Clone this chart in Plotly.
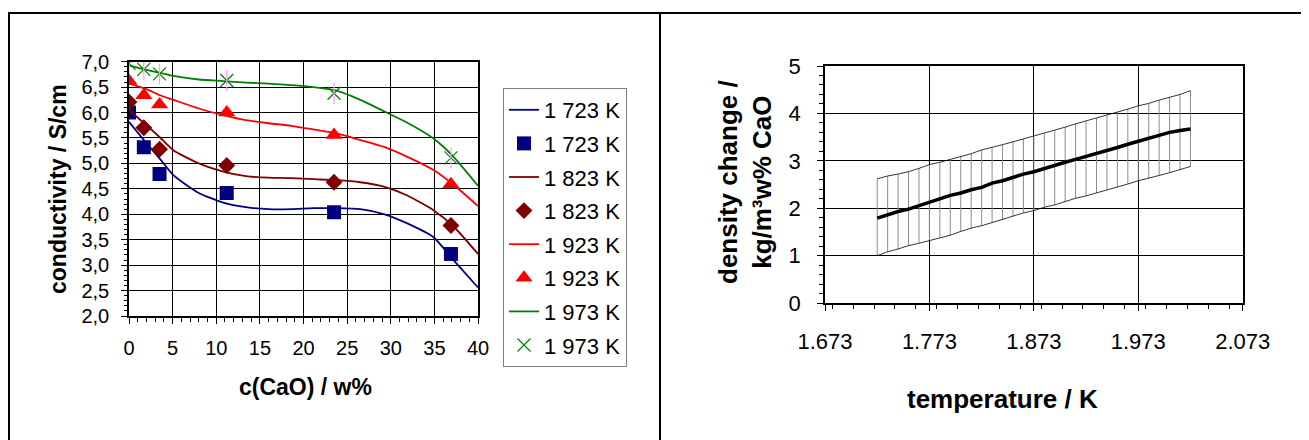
import plotly.graph_objects as go

# ---------------- data: left chart (conductivity) ----------------
curve_x = [0, 2.0, 3.55, 5.08, 8.0, 10.8, 13.4, 16.0, 18.6, 21.1, 23.8, 26.5, 29.3, 31.9, 34.9, 37.2, 40]
curve_1723 = [5.82, 5.40, 5.09, 4.77, 4.42, 4.23, 4.14, 4.10, 4.10, 4.12, 4.12, 4.10, 4.00, 3.82, 3.55, 3.10, 2.56]
curve_1823 = [6.05, 5.75, 5.51, 5.26, 5.00, 4.84, 4.75, 4.72, 4.71, 4.69, 4.67, 4.63, 4.54, 4.37, 4.08, 3.76, 3.22]
curve_1923 = [6.57, 6.46, 6.34, 6.25, 6.08, 5.95, 5.85, 5.79, 5.74, 5.67, 5.59, 5.46, 5.32, 5.13, 4.87, 4.58, 4.16]
curve_1973 = [6.93, 6.84, 6.78, 6.72, 6.65, 6.62, 6.59, 6.57, 6.54, 6.50, 6.43, 6.25, 6.02, 5.80, 5.49, 5.13, 4.56]

meas_x = [0, 1.7, 3.5, 11.2, 23.5, 36.9]
meas_1723 = [6.00, 5.32, 4.79, 4.42, 4.04, 3.22]
meas_1823 = [6.21, 5.70, 5.28, 4.96, 4.63, 3.78]
meas_1923 = [6.62, 6.34, 6.16, 6.00, 5.56, 4.59]
meas_1973 = [6.97, 6.85, 6.76, 6.63, 6.38, 5.11]

series_names = ["1 723 K", "1 823 K", "1 923 K", "1 973 K"]
series_colors = ["#000080", "#800000", "#FF0000", "#008000"]

# ---------------- data: right chart (density change) ----------------
temp_k = [1723, 1733, 1743, 1753, 1763, 1773, 1783, 1793, 1803, 1813, 1823,
          1833, 1843, 1853, 1863, 1873, 1883, 1893, 1903, 1913, 1923,
          1933, 1943, 1953, 1963, 1973, 1983, 1993, 2003, 2013, 2023]
dens_mid = [1.79, 1.86, 1.93, 1.98, 2.05, 2.12, 2.20, 2.27, 2.32, 2.39, 2.44,
            2.53, 2.58, 2.65, 2.72, 2.77, 2.84, 2.91, 2.97, 3.03, 3.09,
            3.16, 3.22, 3.28, 3.35, 3.41, 3.48, 3.53, 3.60, 3.64, 3.67]
dens_up = [2.62, 2.68, 2.72, 2.77, 2.84, 2.92, 2.97, 3.03, 3.09, 3.15, 3.23,
           3.28, 3.34, 3.40, 3.46, 3.53, 3.58, 3.64, 3.71, 3.78, 3.84,
           3.90, 3.97, 4.03, 4.09, 4.16, 4.21, 4.28, 4.34, 4.40, 4.48]
dens_low = [1.00, 1.08, 1.14, 1.21, 1.26, 1.32, 1.38, 1.43, 1.51, 1.58, 1.63,
            1.70, 1.76, 1.83, 1.90, 1.95, 2.02, 2.07, 2.14, 2.21, 2.26,
            2.32, 2.39, 2.44, 2.51, 2.58, 2.63, 2.69, 2.75, 2.81, 2.88]

FONT = "Arial, Liberation Sans, sans-serif"
OFF = 8                      # page body margin in the browser
W, H = 1309 - OFF, 440 - OFF

fig = go.Figure()

curves = [curve_1723, curve_1823, curve_1923, curve_1973]
meas = [meas_1723, meas_1823, meas_1923, meas_1973]
symbols = ["square", "diamond", "triangle-up", "x-thin-open"]
sizes = [14, 13, 15, 13]

for i, (nm, col) in enumerate(zip(series_names, series_colors)):
    fig.add_trace(go.Scatter(
        x=curve_x, y=curves[i], mode="lines", name=nm,
        line=dict(color=col, width=1.8, shape="spline", smoothing=0.6),
        legendgroup=f"l{i}", xaxis="x", yaxis="y"))
    mk = dict(symbol=symbols[i], size=sizes[i], color=col)
    if symbols[i].endswith("open"):
        mk["line"] = dict(color=col, width=1.2)
    fig.add_trace(go.Scatter(
        x=meas_x, y=meas[i], mode="markers", name=nm, marker=mk,
        legendgroup=f"m{i}", xaxis="x", yaxis="y"))
    if symbols[i].endswith("open"):
        fig.add_trace(go.Scatter(
            x=meas_x, y=meas[i], mode="markers", showlegend=False,
            marker=dict(symbol="line-ns-open", size=sizes[i] + 2,
                        line=dict(color=col, width=1.2)),
            legendgroup=f"m{i}", xaxis="x", yaxis="y", hoverinfo="skip"))

# hatch lines between lower and upper bound
hx, hy = [], []
for t, lo, up in zip(temp_k, dens_low, dens_up):
    hx += [t, t, None]
    hy += [lo, up, None]
fig.add_trace(go.Scatter(x=hx, y=hy, mode="lines", showlegend=False,
                         line=dict(color="#8c8c8c", width=1), xaxis="x2", yaxis="y2"))
fig.add_trace(go.Scatter(x=temp_k, y=dens_up, mode="lines", showlegend=False,
                         line=dict(color="#000000", width=0.8), xaxis="x2", yaxis="y2"))
fig.add_trace(go.Scatter(x=temp_k, y=dens_low, mode="lines", showlegend=False,
                         line=dict(color="#000000", width=0.8), xaxis="x2", yaxis="y2"))
fig.add_trace(go.Scatter(x=temp_k, y=dens_mid, mode="lines", showlegend=False,
                         line=dict(color="#000000", width=3.5), xaxis="x2", yaxis="y2"))

def px_x(p):
    return (p - OFF) / W

def px_y(p):
    return 1 - (p - OFF) / H

axis_common = dict(showline=True, linecolor="#000000", linewidth=1.5, mirror=True,
                   showgrid=True, gridcolor="#000000", gridwidth=1, zeroline=False,
                   ticks="outside", tickcolor="#000000", tickwidth=1.2,
                   fixedrange=True, automargin=False)

fig.update_layout(
    width=W, height=H, margin=dict(l=0, r=0, t=0, b=0, pad=0, autoexpand=False),
    paper_bgcolor="#ffffff", plot_bgcolor="#ffffff",
    separators=",.",
    font=dict(family=FONT, color="#000000"),
    showlegend=True,
    legend=dict(x=px_x(503), y=px_y(88), xanchor="left", yanchor="top",
                bordercolor="#808080", borderwidth=1, bgcolor="#ffffff",
                font=dict(size=22, family=FONT), traceorder="grouped",
                tracegroupgap=2, itemwidth=30, entrywidth=84),
    xaxis=dict(domain=[px_x(129), px_x(478)], range=[0, 40], tick0=0, dtick=5,
               ticklen=6, tickfont=dict(size=20), ticklabelstandoff=7,
               minor=dict(dtick=1, ticks="outside", ticklen=4, tickcolor="#000000",
                          showgrid=False),
               anchor="y", **axis_common),
    yaxis=dict(domain=[px_y(316), px_y(61.7)], range=[2, 7], tick0=2, dtick=0.5,
               tickformat=".1f", ticklen=6, tickfont=dict(size=20), ticklabelstandoff=8,
               minor=dict(dtick=0.1, ticks="outside", ticklen=3, tickcolor="#000000",
                          showgrid=False),
               anchor="x", **axis_common),
    xaxis2=dict(domain=[px_x(825), px_x(1242.7)], range=[1673, 2073], tick0=1673,
                dtick=100, separatethousands=True, ticklen=6, tickfont=dict(size=22),
                ticklabelstandoff=12,
                minor=dict(dtick=20, ticks="outside", ticklen=4, tickcolor="#000000",
                           showgrid=False),
                anchor="y2", **axis_common),
    yaxis2=dict(domain=[px_y(303), px_y(66)], range=[0, 5], tick0=0, dtick=1,
                ticklen=6, tickfont=dict(size=22), ticklabelstandoff=12,
                minor=dict(dtick=0.2, ticks="outside", ticklen=4, tickcolor="#000000",
                           showgrid=False),
                anchor="x2", **axis_common),
)

annots = [
    dict(text="<b>conductivity / S/cm</b>", x=px_x(58), y=px_y(189), textangle=-90,
         font=dict(size=23, family=FONT)),
    dict(text="<b>c(CaO) / w%</b>", x=px_x(305.5), y=px_y(387),
         font=dict(size=23, family=FONT)),
    dict(text="<b>density change /<br>kg/m³w% CaO</b>", x=px_x(745), y=px_y(182),
         textangle=-90, font=dict(size=26, family=FONT)),
    dict(text="<b>temperature / K</b>", x=px_x(1002), y=px_y(399),
         font=dict(size=26, family=FONT)),
]
for a in annots:
    a.update(xref="paper", yref="paper", xanchor="center", yanchor="middle",
             showarrow=False)
fig.update_layout(annotations=annots)

frame = dict(type="line", xref="paper", yref="paper", line=dict(color="#000000", width=2))
fig.update_layout(shapes=[
    dict(frame, x0=0, x1=1.0, y0=px_y(13), y1=px_y(13)),
    dict(frame, x0=1 / W, x1=1 / W, y0=px_y(13), y1=0),
    dict(frame, x0=px_x(660), x1=px_x(660), y0=px_y(13), y1=0),
])

fig.write_html("out.html")
